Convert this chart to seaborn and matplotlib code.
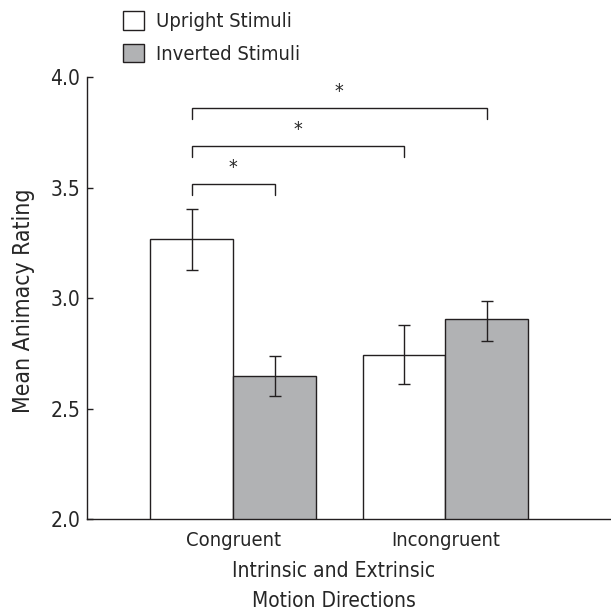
import seaborn as sns
import matplotlib.pyplot as plt
import pandas as pd
from matplotlib.patches import Patch

conditions = ['Congruent', 'Congruent', 'Incongruent', 'Incongruent']
stimuli = ['Upright Stimuli', 'Inverted Stimuli', 'Upright Stimuli', 'Inverted Stimuli']
means = [3.267, 2.648, 2.745, 2.908]
err_low = [3.127, 2.560, 2.611, 2.808]
err_high = [3.405, 2.738, 2.878, 2.988]

# significance brackets: (left x, right x, height) in data coords
brackets = [(-0.195, 0.195, 3.517), (-0.195, 0.805, 3.687), (-0.195, 1.195, 3.859)]

sns.set_style('ticks')
plt.rcParams['font.family'] = ['DejaVu Sans']
plt.rcParams['font.stretch'] = 'condensed'
plt.rcParams['font.size'] = 15

edge = '#231f20'
gray = '#b1b2b4'

df = pd.DataFrame({'cond': conditions, 'stim': stimuli, 'mean': means})

fig = plt.figure(figsize=(6.11, 6.15), dpi=100)
ax = fig.add_axes([0.1424, 0.1553, 0.8576, 0.7195])
sns.barplot(data=df, x='cond', y='mean', hue='stim', palette=['white', gray],
            width=0.78, edgecolor=edge, linewidth=1.0, errorbar=None,
            legend=False, ax=ax)

bars = sorted([p for p in ax.patches if p.get_height() != 0], key=lambda p: p.get_x())
for patch, lo, hi, m in zip(bars, err_low, err_high, means):
    cx = patch.get_x() + patch.get_width() / 2
    ax.errorbar(cx, m, yerr=[[m - lo], [hi - m]], fmt='none', ecolor=edge,
                elinewidth=1.0, capsize=4.3, capthick=1.0)

for x0, x1, h in brackets:
    ax.plot([x0, x0, x1, x1], [h - 0.05, h, h, h - 0.05], color=edge, lw=1.0,
            solid_joinstyle='miter')
    ax.text((x0 + x1) / 2, h + 0.075, '*', ha='center', va='center', fontsize=14)

ax.set_ylim(2.0, 4.0)
ax.set_xlim(-0.689, 1.78)
ax.set_yticks([2.0, 2.5, 3.0, 3.5, 4.0])
ax.set_yticklabels(['2.0', '2.5', '3.0', '3.5', '4.0'])
ax.tick_params(axis='y', direction='in', length=4, width=1, color=edge, pad=5,
               labelsize=15)
ax.tick_params(axis='x', length=0, pad=8, labelsize=14.5)
for s in ['left', 'bottom']:
    ax.spines[s].set_color(edge)
    ax.spines[s].set_linewidth(1.0)
sns.despine(ax=ax)

ax.set_ylabel('Mean Animacy Rating', fontsize=16.5)
ax.yaxis.set_label_coords(-0.1, 0.495, transform=ax.transAxes)
ax.set_xlabel('Intrinsic and Extrinsic\nMotion Directions', linespacing=1.6)
ax.xaxis.set_label_coords(0.471, -0.094, transform=ax.transAxes)
ax.xaxis.label.set_va('top')

handles = [Patch(facecolor='white', edgecolor=edge, linewidth=1.0),
           Patch(facecolor=gray, edgecolor=edge, linewidth=1.0)]
fig.legend(handles, ['Upright Stimuli', 'Inverted Stimuli'], loc='upper left',
           bbox_to_anchor=(123 / 611, 1 - 11 / 615), frameon=False, borderpad=0,
           borderaxespad=0, handlelength=1.05, handleheight=1.05,
           handletextpad=0.6, labelspacing=0.62, fontsize=14.5)

fig.savefig('out.png', dpi=100)
